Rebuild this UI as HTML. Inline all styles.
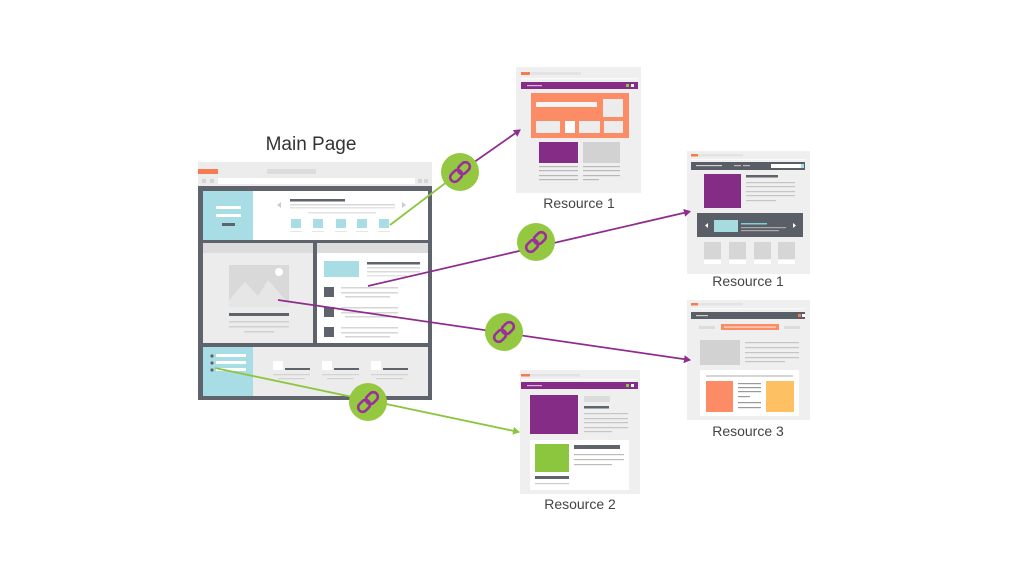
<!DOCTYPE html>
<html><head><meta charset="utf-8"><style>
html,body{margin:0;padding:0;background:#fff;}
body{width:1024px;height:576px;overflow:hidden;}
svg{display:block;}
text{font-family:"Liberation Sans",sans-serif;}
</style></head><body>
<svg width="1024" height="576" viewBox="0 0 1024 576" xmlns="http://www.w3.org/2000/svg">
<defs>
<marker id="ap" markerWidth="8" markerHeight="8" refX="6" refY="4" orient="auto" markerUnits="userSpaceOnUse"><path d="M0,0 L7,4 L0,8 Z" fill="#8e2d8e"/></marker>
<marker id="ag" markerWidth="8" markerHeight="8" refX="6" refY="4" orient="auto" markerUnits="userSpaceOnUse"><path d="M0,0 L7,4 L0,8 Z" fill="#8cc63f"/></marker>
<g id="chain">
<circle r="19" fill="#94c840"/>
<g transform="rotate(-45)" fill="none" stroke="#9b2f9b" stroke-width="2.6">
<rect x="-12" y="-4.5" width="13" height="9" rx="4.5"/>
<rect x="-1" y="-4.5" width="13" height="9" rx="4.5"/>
</g>
</g>
</defs>

<!-- Main Page label -->
<text x="311" y="150" font-size="19" fill="#333" text-anchor="middle">Main Page</text>

<!-- Main page browser -->
<rect x="198" y="162" width="234" height="26" fill="#ececec"/>
<rect x="198" y="169" width="20" height="5" fill="#f77b4f"/>
<rect x="267" y="169" width="49" height="5" fill="#dcdcdc"/>
<rect x="218" y="178" width="197" height="6" fill="#fff"/>
<rect x="202" y="179" width="4" height="4" fill="#d5d5d5"/>
<rect x="210" y="179" width="4" height="4" fill="#d5d5d5"/>
<rect x="418" y="179" width="4" height="4" fill="#d5d5d5"/>
<rect x="424" y="179" width="4" height="4" fill="#d5d5d5"/>
<rect x="198" y="186" width="234" height="214" fill="#5f636b"/>
<!-- header -->
<rect x="203" y="191" width="50" height="49" fill="#a9dde6"/>
<rect x="253" y="191" width="175" height="49" fill="#fff"/>
<rect x="216" y="206" width="25" height="3" fill="#fff"/>
<rect x="216" y="214" width="25" height="3" fill="#fff"/>
<rect x="222" y="223" width="13" height="3" fill="#5f636b"/>
<path d="M281,202 L277,205 L281,208 Z" fill="#ccc"/>
<path d="M402,202 L406,205 L402,208 Z" fill="#ccc"/>
<rect x="290" y="199" width="55" height="2.5" fill="#5f636b"/>
<rect x="290" y="204" width="105" height="1.5" fill="#d9d9d9"/>
<rect x="290" y="207" width="105" height="1.5" fill="#e3e3e3"/>
<rect x="308" y="212" width="68" height="1.5" fill="#e3e3e3"/>
<g fill="#a9dde6">
<rect x="291" y="219" width="10" height="9"/><rect x="313" y="219" width="10" height="9"/><rect x="336" y="219" width="10" height="9"/><rect x="357" y="219" width="10" height="9"/><rect x="379" y="219" width="10" height="9"/>
</g>
<g fill="#e6e6e6">
<rect x="290" y="231" width="12" height="1"/><rect x="312" y="231" width="12" height="1"/><rect x="335" y="231" width="12" height="1"/><rect x="356" y="231" width="12" height="1"/><rect x="378" y="231" width="12" height="1"/>
</g>
<!-- middle left -->
<rect x="203" y="243" width="110" height="100" fill="#ececec"/>
<rect x="203" y="243" width="110" height="10" fill="#dcdcdc"/>
<rect x="229" y="265" width="60" height="42" fill="#d9d9d9"/>
<path d="M229,300 L245,282 L258,296 L268,280 L289,304 L289,307 L229,307 Z" fill="#e6e6e6"/>
<circle cx="279" cy="272" r="4" fill="#fff"/>
<rect x="229" y="313" width="60" height="3" fill="#5f636b"/>
<rect x="229" y="321" width="60" height="1.5" fill="#d0d0d0"/>
<rect x="229" y="326" width="60" height="1.5" fill="#d0d0d0"/>
<rect x="244" y="331" width="30" height="1.5" fill="#d0d0d0"/>
<!-- middle right -->
<rect x="317" y="243" width="111" height="100" fill="#fff"/>
<rect x="317" y="243" width="111" height="10" fill="#dcdcdc"/>
<rect x="324" y="261" width="35" height="16" fill="#a9dde6"/>
<rect x="367" y="262" width="53" height="2.5" fill="#5f636b"/>
<rect x="367" y="267" width="53" height="1.5" fill="#dadada"/>
<rect x="367" y="271" width="53" height="1.5" fill="#dadada"/>
<rect x="367" y="275" width="40" height="1.5" fill="#e3e3e3"/>
<rect x="324" y="287" width="10" height="10" fill="#5f636b"/>
<rect x="324" y="307" width="10" height="10" fill="#5f636b"/>
<rect x="324" y="327" width="10" height="10" fill="#5f636b"/>
<g fill="#d6d6d6">
<rect x="341" y="287" width="57" height="1.5"/><rect x="341" y="292" width="57" height="1.5"/><rect x="345" y="296" width="45" height="1.5"/>
<rect x="341" y="307" width="57" height="1.5"/><rect x="341" y="312" width="57" height="1.5"/><rect x="345" y="316" width="45" height="1.5"/>
<rect x="341" y="327" width="57" height="1.5"/><rect x="341" y="332" width="57" height="1.5"/><rect x="345" y="336" width="45" height="1.5"/>
</g>
<!-- bottom -->
<rect x="203" y="347" width="50" height="49" fill="#a9dde6"/>
<rect x="253" y="347" width="175" height="49" fill="#ececec"/>
<g fill="#5f636b"><circle cx="212" cy="356" r="1.6"/><circle cx="212" cy="363" r="1.6"/><circle cx="212" cy="370" r="1.6"/></g>
<g fill="#fff"><rect x="216" y="354" width="30" height="3"/><rect x="216" y="361" width="30" height="3"/><rect x="216" y="368" width="30" height="3"/></g>
<g fill="#fff"><rect x="273" y="361" width="10" height="9"/><rect x="322" y="361" width="10" height="9"/><rect x="371" y="361" width="10" height="9"/></g>
<g fill="#5f636b"><rect x="285" y="368" width="25" height="2"/><rect x="334" y="368" width="25" height="2"/><rect x="383" y="368" width="25" height="2"/></g>
<g fill="#d3d3d3"><rect x="273" y="374" width="37" height="1.2"/><rect x="322" y="374" width="37" height="1.2"/><rect x="371" y="374" width="37" height="1.2"/>
<rect x="278" y="378" width="27" height="1.2"/><rect x="327" y="378" width="27" height="1.2"/><rect x="376" y="378" width="27" height="1.2"/></g>

<!-- Resource 1 (top) -->
<rect x="516" y="67" width="125" height="126" fill="#efefef"/>
<rect x="521" y="72" width="9" height="3" fill="#f77b4f"/>
<rect x="531" y="72" width="50" height="3" fill="#e3e3e3"/>
<rect x="521" y="78" width="117" height="1.5" fill="#fafafa"/>
<rect x="521" y="82" width="117" height="7" fill="#842c86"/>
<rect x="527" y="85" width="15" height="1.2" fill="#d8b5d9"/>
<rect x="626" y="84" width="3" height="3" fill="#8cc63f"/>
<rect x="631" y="84" width="3" height="3" fill="#fff"/>
<rect x="531" y="93" width="98" height="45" fill="#fc8c65"/>
<rect x="536" y="102" width="61" height="5" fill="#f4f4f4"/>
<rect x="603" y="99" width="20" height="18" fill="#ececec"/>
<rect x="536" y="121" width="24" height="12" fill="#ececec"/>
<rect x="565" y="121" width="10" height="12" fill="#fff"/>
<rect x="579" y="121" width="21" height="12" fill="#ececec"/>
<rect x="604" y="121" width="19" height="12" fill="#ececec"/>
<rect x="539" y="142" width="39" height="21" fill="#842c86"/>
<rect x="583" y="142" width="37" height="21" fill="#d2d2d2"/>
<g fill="#b8b8b8">
<rect x="539" y="166" width="39" height="1.2"/><rect x="539" y="170" width="39" height="1.2"/><rect x="539" y="175" width="39" height="1.2"/><rect x="539" y="179" width="39" height="1.2"/>
<rect x="583" y="166" width="37" height="1.2"/><rect x="583" y="170" width="37" height="1.2"/><rect x="583" y="175" width="37" height="1.2"/><rect x="583" y="179" width="16" height="1.2"/>
</g>
<text x="579" y="208" font-size="14" fill="#444" text-anchor="middle">Resource 1</text>

<!-- Resource 1 (right) -->
<rect x="687" y="151" width="123" height="123" fill="#efefef"/>
<rect x="691" y="154" width="7" height="2.5" fill="#f77b4f"/>
<rect x="698" y="154" width="45" height="2.5" fill="#e3e3e3"/>
<rect x="691" y="159" width="114" height="1.2" fill="#fafafa"/>
<rect x="691" y="162" width="114" height="8" fill="#5a5e66"/>
<rect x="696" y="165" width="26" height="1.2" fill="#d0d0d0"/>
<rect x="734" y="165" width="7" height="1.2" fill="#bbb"/>
<rect x="743" y="165" width="7" height="1.2" fill="#bbb"/>
<rect x="771" y="164" width="30" height="4" fill="#fff"/>
<rect x="801" y="164" width="3" height="4" fill="#a9dde6"/>
<rect x="704" y="174" width="37" height="34" fill="#842c86"/>
<rect x="746" y="175" width="32" height="2.5" fill="#5f636b"/>
<g fill="#c5c5c5"><rect x="746" y="182" width="49" height="1.2"/><rect x="746" y="186" width="49" height="1.2"/><rect x="746" y="191" width="49" height="1.2"/><rect x="746" y="195" width="49" height="1.2"/><rect x="746" y="200" width="30" height="1.2"/></g>
<rect x="697" y="213" width="106" height="24" fill="#5a5e66"/>
<rect x="714" y="220" width="24" height="12" fill="#a6dcdf"/>
<rect x="741" y="223" width="26" height="1.5" fill="#7fd0d6"/>
<rect x="741" y="227" width="45" height="1.2" fill="#aaa"/>
<rect x="741" y="230" width="38" height="1.2" fill="#aaa"/>
<path d="M708,223 L705,225.5 L708,228 Z" fill="#fff"/>
<path d="M793,223 L796,225.5 L793,228 Z" fill="#fff"/>
<g fill="#d6d6d6"><rect x="704" y="242" width="17" height="17"/><rect x="729" y="242" width="17" height="17"/><rect x="754" y="242" width="17" height="17"/><rect x="778" y="242" width="17" height="17"/></g>
<g fill="#fff"><rect x="704" y="260" width="17" height="4"/><rect x="729" y="260" width="17" height="4"/><rect x="754" y="260" width="17" height="4"/><rect x="778" y="260" width="17" height="4"/></g>
<text x="748" y="286" font-size="14" fill="#444" text-anchor="middle">Resource 1</text>

<!-- Resource 3 -->
<rect x="687" y="300" width="123" height="120" fill="#efefef"/>
<rect x="691" y="303" width="7" height="2.5" fill="#f77b4f"/>
<rect x="698" y="303" width="45" height="2.5" fill="#e3e3e3"/>
<rect x="691" y="308" width="114" height="1.2" fill="#fafafa"/>
<rect x="691" y="312" width="114" height="7" fill="#5a5e66"/>
<rect x="696" y="315" width="12" height="1.2" fill="#ccc"/>
<rect x="798" y="314" width="3" height="3" fill="#f77b4f"/>
<rect x="802" y="314" width="3" height="3" fill="#fff"/>
<rect x="699" y="326" width="16" height="3" fill="#dcdcdc"/>
<rect x="721" y="324" width="58" height="6" fill="#fc8c65"/>
<rect x="724" y="326.5" width="52" height="1.2" fill="#fde0d4"/>
<rect x="784" y="326" width="16" height="3" fill="#dcdcdc"/>
<rect x="700" y="340" width="40" height="25" fill="#d2d2d2"/>
<g fill="#c5c5c5"><rect x="745" y="342" width="54" height="1.2"/><rect x="745" y="347" width="54" height="1.2"/><rect x="745" y="352" width="54" height="1.2"/><rect x="745" y="357" width="54" height="1.2"/><rect x="745" y="361" width="40" height="1.2"/></g>
<rect x="700" y="370" width="99" height="46" fill="#fff"/>
<rect x="706" y="375" width="87" height="2" fill="#d6d6d6"/>
<rect x="706" y="381" width="27" height="31" fill="#fc8c65"/>
<rect x="766" y="381" width="28" height="31" fill="#fdc062"/>
<g fill="#999"><rect x="738" y="383" width="23" height="1.2"/><rect x="738" y="387" width="23" height="1.2"/><rect x="738" y="391" width="23" height="1.2"/><rect x="738" y="396" width="12" height="1.2"/><rect x="738" y="402" width="23" height="1.2"/><rect x="738" y="407" width="23" height="1.2"/></g>
<text x="748" y="436" font-size="14" fill="#444" text-anchor="middle">Resource 3</text>

<!-- Resource 2 -->
<rect x="520" y="370" width="120" height="124" fill="#efefef"/>
<rect x="521" y="374" width="9" height="2.5" fill="#f77b4f"/>
<rect x="530" y="374" width="50" height="2.5" fill="#e3e3e3"/>
<rect x="521" y="379" width="117" height="1.2" fill="#fafafa"/>
<rect x="521" y="382" width="117" height="7" fill="#842c86"/>
<rect x="527" y="385" width="15" height="1.2" fill="#d8b5d9"/>
<rect x="626" y="384" width="3" height="3" fill="#8cc63f"/>
<rect x="631" y="384" width="3" height="3" fill="#fff"/>
<rect x="530" y="395" width="48" height="39" fill="#842c86"/>
<rect x="584" y="396" width="26" height="6" fill="#dcdcdc"/>
<rect x="584" y="406" width="25" height="2.5" fill="#5f636b"/>
<g fill="#c5c5c5"><rect x="584" y="413" width="44" height="1.2"/><rect x="584" y="418" width="44" height="1.2"/><rect x="584" y="422" width="44" height="1.2"/><rect x="584" y="427" width="44" height="1.2"/><rect x="584" y="431" width="28" height="1.2"/></g>
<rect x="530" y="440" width="99" height="50" fill="#fff"/>
<rect x="535" y="444" width="34" height="28" fill="#8cc63f"/>
<rect x="574" y="445" width="46" height="4" fill="#5f636b"/>
<g fill="#bbb"><rect x="574" y="454" width="50" height="1.2"/><rect x="574" y="459" width="50" height="1.2"/><rect x="574" y="464" width="38" height="1.2"/></g>
<rect x="535" y="476" width="34" height="3" fill="#5f636b"/>
<rect x="535" y="483" width="34" height="1.2" fill="#ccc"/>
<text x="580" y="509" font-size="14" fill="#444" text-anchor="middle">Resource 2</text>

<!-- Connectors -->
<line x1="390" y1="225" x2="460" y2="172" stroke="#8cc63f" stroke-width="1.8"/>
<line x1="460" y1="172" x2="520" y2="130" stroke="#8e2d8e" stroke-width="1.8" marker-end="url(#ap)"/>
<line x1="368" y1="286" x2="690" y2="211.5" stroke="#8e2d8e" stroke-width="1.8" marker-end="url(#ap)"/>
<line x1="278" y1="300" x2="690" y2="360" stroke="#8e2d8e" stroke-width="1.8" marker-end="url(#ap)"/>
<line x1="215" y1="368" x2="519" y2="432" stroke="#8cc63f" stroke-width="1.8" marker-end="url(#ag)"/>

<use href="#chain" x="460" y="172"/>
<use href="#chain" x="536" y="242"/>
<use href="#chain" x="504" y="332"/>
<use href="#chain" x="368" y="402"/>
</svg>
</body></html>
